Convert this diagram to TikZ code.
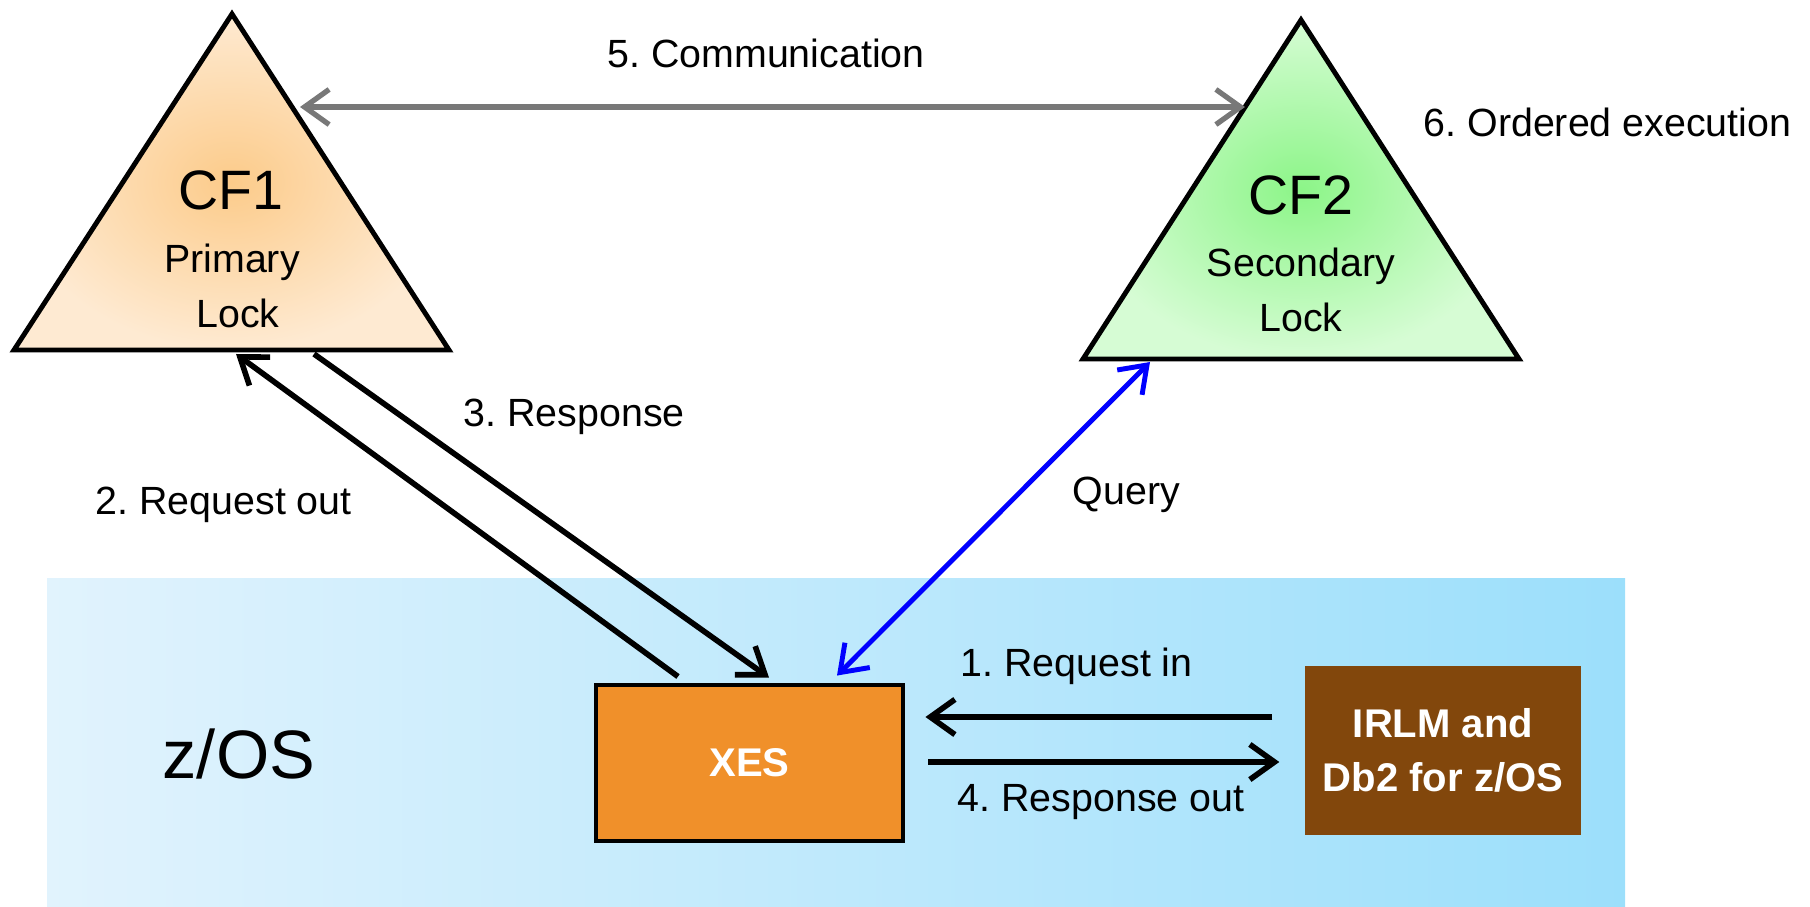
\documentclass[tikz,border=0pt]{standalone}
\usepackage{fontspec}
\setmainfont{Liberation Sans}
\frenchspacing
\usetikzlibrary{arrows.meta,calc,positioning}

\definecolor{zosleft}{RGB}{225,243,253}
\definecolor{zosright}{RGB}{156,223,251}
\definecolor{xesfill}{RGB}{240,144,42}
\definecolor{irlmfill}{RGB}{130,71,12}
\definecolor{primin}{RGB}{252,203,138}
\definecolor{primout}{RGB}{254,234,210}
\definecolor{secin}{RGB}{140,245,136}
\definecolor{secout}{RGB}{214,252,212}
\definecolor{commgray}{RGB}{120,120,120}

\begin{document}
\begin{tikzpicture}[>={Straight Barb[length=7pt,width=10pt]},
		txt/.style = {inner sep=0pt, font=\fontsize{11.2}{13.5}\selectfont},
		cftitle/.style = {inner sep=0pt, font=\fontsize{15.8}{18}\selectfont},
		flow/.style = {->, line width=1.6pt},
		xesbox/.style = {draw, line width=1.4pt, fill=xesfill, minimum width=3.07cm, minimum height=1.56cm, text=white, font=\bfseries\fontsize{11.4}{14}\selectfont},
		irlmbox/.style = {fill=irlmfill, minimum width=2.76cm, minimum height=1.69cm, inner sep=0pt, align=center, text=white, font=\bfseries\fontsize{11.4}{15.4}\selectfont}]
		\useasboundingbox (0,0) rectangle (18.10,9.06);
		
		% z/OS area
		\shade[left color=zosleft, right color=zosright] (0.47,0) rectangle (16.25,3.28);
		\node[inner sep=0pt, anchor=base west, font=\fontsize{19.5}{22}\selectfont] (zos) at (1.62,1.28) {z/OS};
		
		% coupling facilities
		\coordinate (pa) at (2.32,8.92);
		\coordinate (pl) at (0.14,5.56);
		\coordinate (pr) at (4.49,5.56);
		\coordinate (sa) at (13.01,8.86);
		\coordinate (sl) at (10.83,5.47);
		\coordinate (sr) at (15.19,5.47);
		\shade[inner color=primin, outer color=primout] (pa) -- (pl) -- (pr) -- cycle;
		\shade[inner color=secin, outer color=secout] (sa) -- (sl) -- (sr) -- cycle;
		\draw[line width=1.4pt, line join=miter] (pa) -- (pl) -- (pr) -- cycle;
		\draw[line width=1.4pt, line join=miter] (sa) -- (sl) -- (sr) -- cycle;
		
		\node[cftitle, anchor=base] (cfone) at (2.31,6.96) {CF1};
		\node[txt, anchor=base] (primary) at (2.32,6.33) {Primary};
		\node[txt, anchor=base] (plock) at (2.38,5.78) {Lock};
		\node[cftitle, anchor=base] (cftwo) at (13.01,6.91) {CF2};
		\node[txt, anchor=base] (secondary) at (13.01,6.29) {Secondary};
		\node[txt, anchor=base] (slock) at (13.01,5.74) {Lock};
		
		% boxes
		\node[xesbox] (xes) at (7.495,1.43) {XES};
		\node[irlmbox] (irlm) at (14.43,1.555) {IRLM and\\Db2 for z/OS};
		
		% arrow ends at the triangles
		\coordinate (commL) at (3.00,7.99);
		\coordinate (commR) at (12.45,7.99);
		\coordinate (reqTip) at (2.36,5.52);
		\coordinate (respStart) at (3.14,5.52);
		\coordinate (queryTip) at (11.50,5.44);
		
		\draw[<->, commgray, line width=1.5pt] (commL) -- (commR);
		\draw[flow] ([xshift=-7.15mm,yshift=0.6mm]xes.north) -- (reqTip);
		\draw[flow] (respStart) -- ([xshift=1.95mm,yshift=0.5mm]xes.north);
		\draw[<->, blue, line width=1.4pt] (queryTip) -- ([xshift=8.75mm,yshift=0.7mm]xes.north);
		\draw[flow, shorten <=3.2mm, shorten >=2mm] ([yshift=3.35mm]irlm.west) -- ([yshift=3.35mm]irlm.west -| xes.east);
		\draw[flow, shorten <=2.3mm, shorten >=2.5mm] ([yshift=-1.15mm]irlm.west -| xes.east) -- ([yshift=-1.15mm]irlm.west);
		
		% labels
		\node[txt, anchor=base] (comm) at (7.66,8.38) {5. Communication};
		\node[txt, anchor=base west] (order) at (14.23,7.69) {6. Ordered execution};
		\node[txt, anchor=base west] (resp) at (4.63,4.79) {3. Response};
		\node[txt, anchor=base west] (reqout) at (0.95,3.92) {2. Request out};
		\node[txt, anchor=base west] (query) at (10.72,4.01) {Query};
		\node[txt, anchor=base west] (reqin) at (9.60,2.30) {1. Request in};
		\node[txt, anchor=base west] (respout) at (9.57,0.95) {4. Response out};
	\end{tikzpicture}
\end{document}
